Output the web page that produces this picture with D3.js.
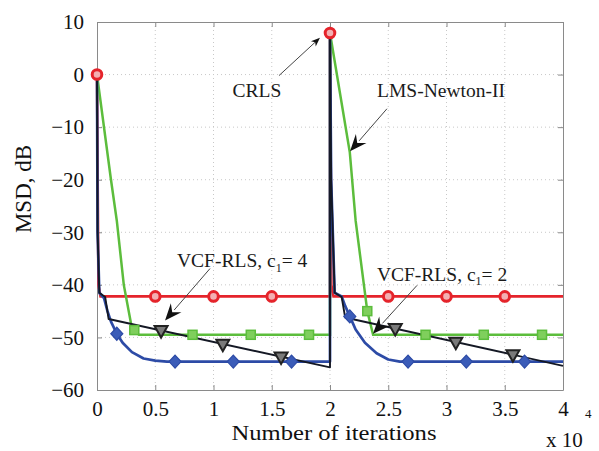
<!DOCTYPE html>
<html><head><meta charset="utf-8">
<script src="https://cdn.jsdelivr.net/npm/d3@7"></script>
<style>body{margin:0;background:#fff}svg{display:block}</style>
</head><body><svg id="c" width="599" height="451"></svg>
<script>
// ---- data (x in units of 10^4 iterations, y in dB) ----
const xTicks = [0, 0.5, 1, 1.5, 2, 2.5, 3, 3.5, 4];
const xTickLabels = ["0", "0.5", "1", "1.5", "2", "2.5", "3", "3.5", "4"];
const yTicks = [-60, -50, -40, -30, -20, -10, 0, 10];
const yTickLabels = ["\u221260", "\u221250", "\u221240", "\u221230", "\u221220", "\u221210", "0", "10"];

const crlsX = [0, 0.012, 0.03, 2.0, 2.0, 2.012, 2.03, 4.0];
const crlsY = [0, -40, -42.2, -42.2, 7.9, -40, -42.2, -42.2];
const crlsMX = [0, 0.5, 1, 1.5, 2, 2.5, 3, 3.5];
const crlsMY = [0, -42.2, -42.2, -42.2, 7.9, -42.2, -42.2, -42.2];

const lmsX = [0, 0.12, 0.17, 0.23, 0.3, 0.33, 0.36, 2.0, 2.0, 2.17, 2.22, 2.32, 2.37, 4.0];
const lmsY = [0, -20, -27.8, -40, -48.3, -48.8, -49.5, -49.5, 7.9, -14.8, -27.8, -45, -49.5, -49.5];
const lmsMX = [0.32, 0.82, 1.32, 1.82, 2.32, 2.82, 3.32, 3.82];
const lmsMY = [-48.6, -49.5, -49.5, -49.5, -45, -49.5, -49.5, -49.5];

const vcf4X = [0, 0.005, 0.02, 0.06, 0.09, 0.12, 0.17, 0.22, 0.3, 0.4, 0.5, 0.6, 2.0, 2.0, 2.01, 2.04, 2.1, 2.13, 2.17, 2.22, 2.3, 2.4, 2.5, 2.6, 4.0];
const vcf4Y = [0, -30, -41.5, -42.5, -45, -47, -49.3, -51, -52.8, -54, -54.4, -54.6, -54.6, 7.9, -20, -41.5, -42.2, -44, -46, -48.5, -51, -53, -54.2, -54.6, -54.6];
const vcf4MX = [0.17, 0.67, 1.17, 1.67, 2.17, 2.67, 3.17, 3.67];
const vcf4MY = [-49.3, -54.6, -54.6, -54.6, -46, -54.6, -54.6, -54.6];

const vcf2X = [0, 0.005, 0.02, 0.07, 0.1, 2.0, 2.0, 2.01, 2.04, 2.1, 2.13, 4.0];
const vcf2Y = [0, -30, -41.5, -42.3, -46.5, -55.7, 7.9, -20, -41.5, -42.3, -46.2, -55.4];
const vcf2MX = [0.55, 1.08, 1.58, 2.56, 3.08, 3.57];
const vcf2MY = [-48.7, -51.3, -53.7, -48.3, -50.9, -53.3];

// annotations: text anchor and arrow (data units)
const annText = ["CRLS", "LMS-Newton-II", "VCF-RLS, c|1|= 4", "VCF-RLS, c|1|= 2"];
const annTX = [1.373, 2.953, 0.687, 2.403];
const annTY = [-3.0, -3.0, -35.4, -37.9];
const annAnchor = ["middle", "middle", "start", "start"];
const arrFromX = [1.562, 2.489, 0.97, 2.747];
const arrFromY = [-0.2, -6.5, -36.9, -40.1];
const arrToX = [1.914, 2.172, 0.584, 2.369];
const arrToY = [7.0, -14.6, -46.8, -49.3];
const arrBig = [false, true, true, true];

// ---- layout ----
const svg = d3.select("#c");
const L = 97, T = 22, W = 466, H = 368;
const x = d3.scaleLinear().domain([0, 4]).range([L, L + W]);
const y = d3.scaleLinear().domain([-60, 10]).range([T + H, T]);
const serif = "'Liberation Serif', 'Times New Roman', serif";

// grid
const g = svg.append("g");
g.selectAll(".gx").data(xTicks.slice(1, -1)).enter().append("line")
  .attr("x1", d => x(d)).attr("x2", d => x(d)).attr("y1", T).attr("y2", T + H)
  .attr("stroke", "#c8c8c8").attr("stroke-width", 1).attr("stroke-dasharray", "1,3");
g.selectAll(".gy").data(yTicks.slice(1, -1)).enter().append("line")
  .attr("y1", d => y(d)).attr("y2", d => y(d)).attr("x1", L).attr("x2", L + W)
  .attr("stroke", "#c8c8c8").attr("stroke-width", 1).attr("stroke-dasharray", "1,3");

// axes
const fmtX = (d) => xTickLabels[xTicks.indexOf(d)];
const fmtY = (d) => yTickLabels[yTicks.indexOf(d)];
const ax = svg.append("g").attr("transform", `translate(0,${T + H})`)
  .call(d3.axisBottom(x).tickValues(xTicks).tickFormat(fmtX).tickSizeInner(-5).tickSizeOuter(0).tickPadding(11));
const ay = svg.append("g").attr("transform", `translate(${L},0)`)
  .call(d3.axisLeft(y).tickValues(yTicks).tickFormat(fmtY).tickSizeInner(-5).tickSizeOuter(0).tickPadding(13));
const axT = svg.append("g").attr("transform", `translate(0,${T})`)
  .call(d3.axisTop(x).tickValues(xTicks).tickFormat("").tickSizeInner(-5).tickSizeOuter(0));
const ayR = svg.append("g").attr("transform", `translate(${L + W},0)`)
  .call(d3.axisRight(y).tickValues(yTicks).tickFormat("").tickSizeInner(-5).tickSizeOuter(0));
[ax, ay, axT, ayR].forEach(a => {
  a.select(".domain").attr("stroke", "#8a8a8a");
  a.selectAll(".tick line").attr("stroke", "#8a8a8a");
  a.selectAll(".tick text").attr("font-family", serif).attr("font-size", 21).attr("fill", "#111");
});
ax.selectAll(".tick text").attr("dy", "0.71em");

// series
const line = d3.line().x(d => x(d[0])).y(d => y(d[1]));
function pts(xs, ys) { return xs.map((v, i) => [v, ys[i]]); }
const P = svg.append("g");

P.append("path").datum(pts(crlsX, crlsY)).attr("d", line).attr("fill", "none")
  .attr("stroke", "#e5242b").attr("stroke-width", 2.6);
P.append("path").datum(pts(lmsX, lmsY)).attr("d", line).attr("fill", "none")
  .attr("stroke", "#5cbd3c").attr("stroke-width", 2.5);
P.append("path").datum(pts(vcf4X, vcf4Y)).attr("d", line).attr("fill", "none")
  .attr("stroke", "#2d4ba6").attr("stroke-width", 2.7).attr("stroke-linejoin", "round");
P.append("path").datum(pts(vcf2X, vcf2Y)).attr("d", line).attr("fill", "none")
  .attr("stroke", "#141824").attr("stroke-width", 1.9).attr("stroke-linejoin", "round");

// markers
P.selectAll(".mr").data(pts(crlsMX, crlsMY)).enter().append("circle")
  .attr("cx", d => x(d[0])).attr("cy", d => y(d[1])).attr("r", 4.8)
  .attr("fill", "#f3b0b2").attr("stroke", "#e5242b").attr("stroke-width", 3);
P.selectAll(".mg").data(pts(lmsMX, lmsMY)).enter().append("rect")
  .attr("x", d => x(d[0]) - 4.5).attr("y", d => y(d[1]) - 4.5).attr("width", 9).attr("height", 9)
  .attr("fill", "#7fcf5c").attr("stroke", "#5cbd3c").attr("stroke-width", 1.5);
P.selectAll(".mb").data(pts(vcf4MX, vcf4MY)).enter().append("path")
  .attr("transform", d => `translate(${x(d[0])},${y(d[1])})`)
  .attr("d", "M0,-6.5L6,0L0,6.5L-6,0Z")
  .attr("fill", "#3b5cb8").attr("stroke", "#2d4ba6").attr("stroke-width", 1.2);
P.selectAll(".mk").data(pts(vcf2MX, vcf2MY)).enter().append("path")
  .attr("transform", d => `translate(${x(d[0])},${y(d[1])})`)
  .attr("d", "M-6.5,-4.5L6.5,-4.5L0,7Z")
  .attr("fill", "#7a7a7a").attr("stroke", "#222").attr("stroke-width", 2);

// annotations
const A = svg.append("g");
annText.forEach((t, i) => {
  const tx = A.append("text").attr("x", x(annTX[i])).attr("y", y(annTY[i]))
    .attr("dy", "0.35em").attr("text-anchor", annAnchor[i])
    .attr("font-family", serif).attr("font-size", 19.5).attr("fill", "#1a1a1a");
  const parts = t.split("|");
  if (parts.length === 1) tx.text(t);
  else {
    tx.append("tspan").text(parts[0]);
    tx.append("tspan").text(parts[1]).attr("font-size", 12).attr("dy", "0.35em");
    tx.append("tspan").text(parts[2]).attr("dy", "-0.22em");
  }
  const x1 = x(arrFromX[i]), y1 = y(arrFromY[i]), x2 = x(arrToX[i]), y2 = y(arrToY[i]);
  const ang = Math.atan2(y2 - y1, x2 - x1);
  const len = arrBig[i] ? 17 : 9, wid = arrBig[i] ? 7 : 3.5, back = arrBig[i] ? 11 : 6.5;
  A.append("line").attr("x1", x1).attr("y1", y1)
    .attr("x2", x2 - Math.cos(ang) * (len - 3)).attr("y2", y2 - Math.sin(ang) * (len - 3))
    .attr("stroke", "#444").attr("stroke-width", 1);
  const c = Math.cos(ang), s = Math.sin(ang);
  const bx = x2 - c * len, by = y2 - s * len;
  const mx = x2 - c * back, my = y2 - s * back;
  A.append("path")
    .attr("d", `M${x2},${y2}L${bx - s * wid},${by + c * wid}L${mx},${my}L${bx + s * wid},${by - c * wid}Z`)
    .attr("fill", "#111");
});

// axis titles
svg.append("text").attr("x", 334).attr("y", 440).attr("text-anchor", "middle")
  .attr("font-family", serif).attr("font-size", 21).attr("fill", "#111")
  .attr("textLength", 205).attr("lengthAdjust", "spacingAndGlyphs").text("Number of iterations");
svg.append("text").attr("transform", "translate(31,189) rotate(-90)").attr("text-anchor", "middle")
  .attr("font-family", serif).attr("font-size", 23).attr("fill", "#111").text("MSD, dB");
svg.append("text").attr("x", 546).attr("y", 447).attr("font-family", serif).attr("font-size", 21)
  .attr("fill", "#111").text("x 10");
svg.append("text").attr("x", 585).attr("y", 418).attr("font-family", serif).attr("font-size", 13)
  .attr("fill", "#111").text("4");
</script></body></html>
